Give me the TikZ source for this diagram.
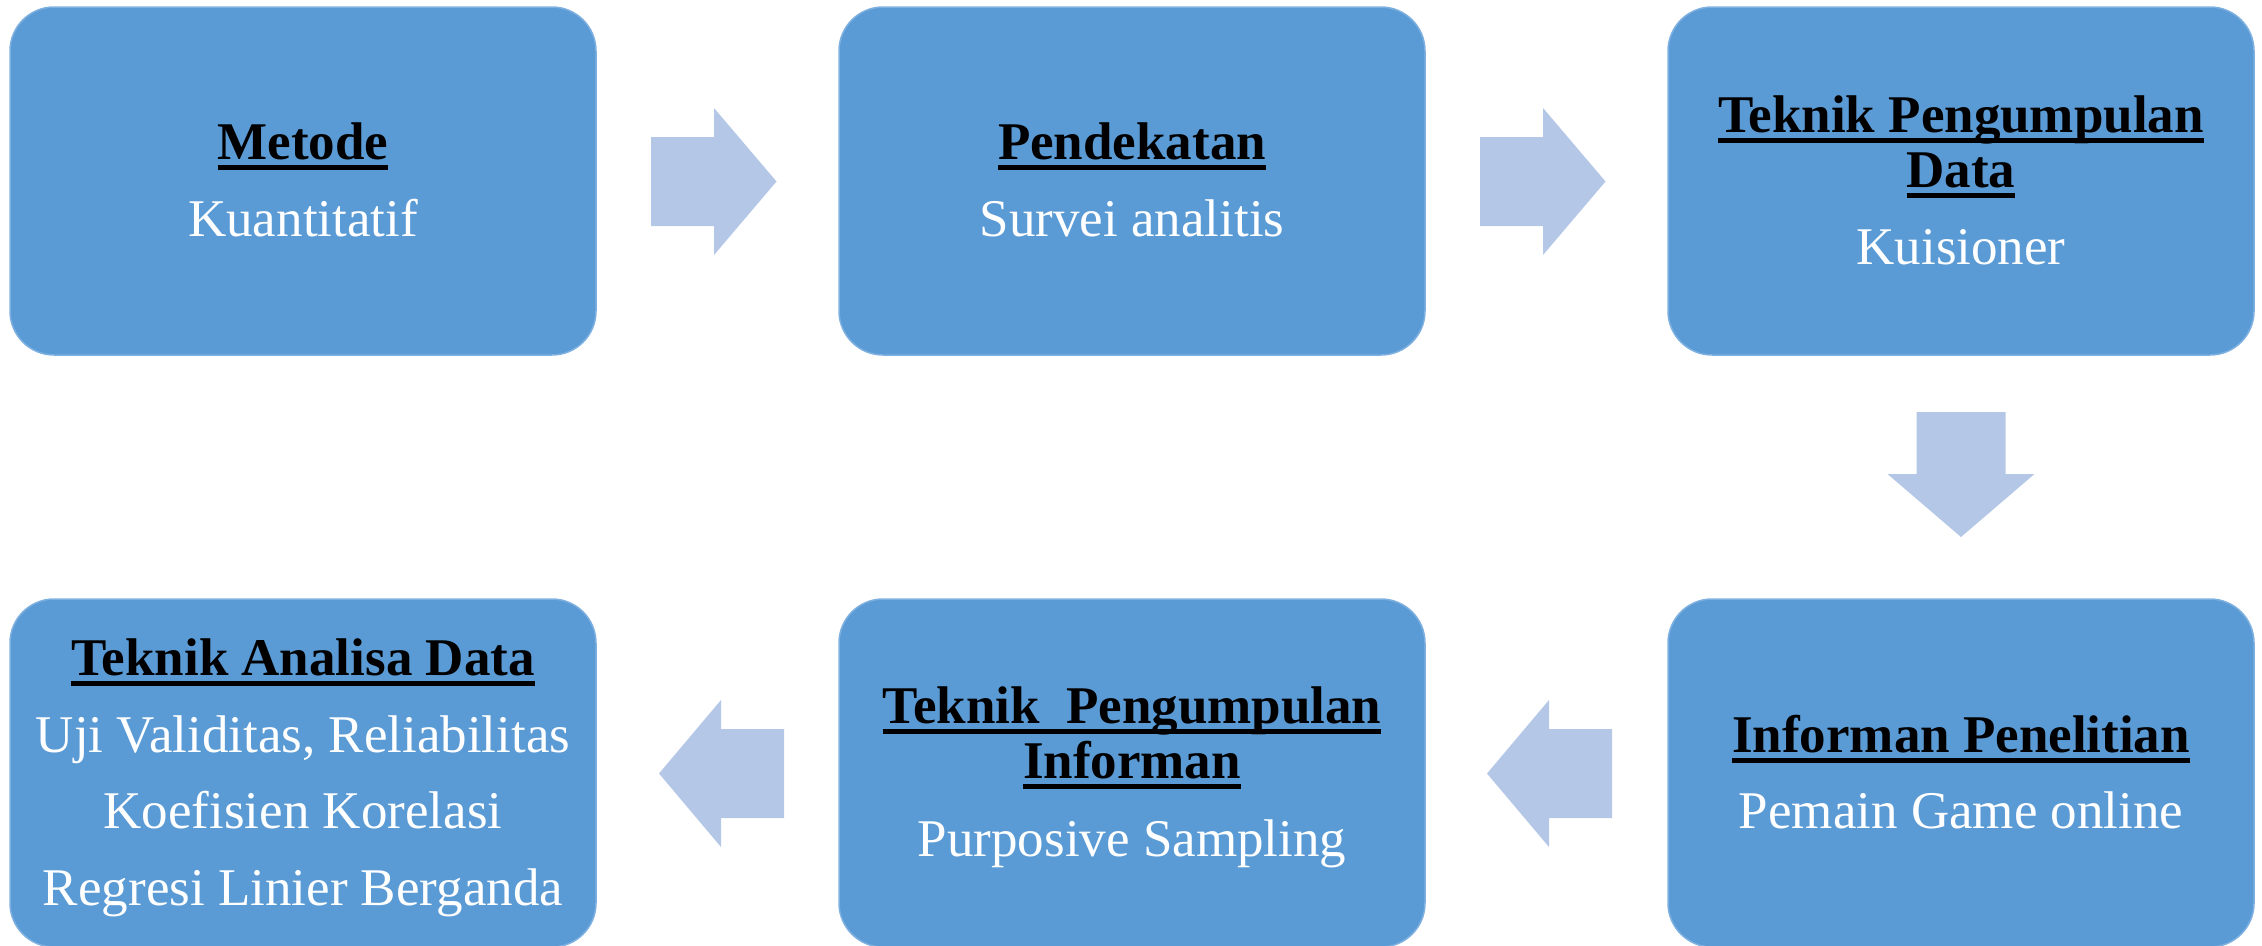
\documentclass[tikz,border=0pt]{standalone}
\usepackage{fontspec}
\setmainfont{Liberation Serif}
\definecolor{boxblue}{HTML}{5B9BD5}
\definecolor{boxedge}{HTML}{7EB0E0}
\definecolor{arrowblue}{HTML}{B4C7E7}
\newcommand{\ulx}[1]{\setbox0\hbox{#1}\rlap{\rule[-10.5pt]{\wd0}{4.5pt}}\box0}
\tikzset{
  stepbox/.style={fill=boxblue, draw=boxedge, line width=1.5pt, rounded corners=44pt,
    minimum width=586pt, minimum height=348pt, inner sep=0pt},
  headtxt/.style={anchor=base, inner sep=0pt, text=black,
    font=\fontsize{53}{60}\selectfont\bfseries},
  bodytxt/.style={anchor=base, inner sep=0pt, text=white,
    font=\fontsize{53}{60}\selectfont},
  blockarrow/.style={fill=arrowblue, draw=none}
}
\begin{document}
\begin{tikzpicture}[x=1pt,y=-1pt]
\useasboundingbox (0,0) rectangle (2262,945);
\clip (0,0) rectangle (2262,945);
% boxes
\node[stepbox] (b1) at (303,181) {};
\node[stepbox] (b2) at (1132,181) {};
\node[stepbox] (b3) at (1961,181) {};
\node[stepbox] (b4) at (303,773) {};
\node[stepbox] (b5) at (1132,773) {};
\node[stepbox] (b6) at (1961,773) {};
% arrows top row (pointing right)
\fill[blockarrow] (651,137) -- (714,137) -- (714,108) -- (776.5,181.5) -- (714,255) -- (714,226) -- (651,226) -- cycle;
\fill[blockarrow] (1480,137) -- (1543,137) -- (1543,108) -- (1605.5,181.5) -- (1543,255) -- (1543,226) -- (1480,226) -- cycle;
% arrow down
\fill[blockarrow] (1916.5,412) -- (2005.5,412) -- (2005.5,474) -- (2034.5,474) -- (1961,537) -- (1887.5,474) -- (1916.5,474) -- cycle;
% arrows bottom row (pointing left)
\fill[blockarrow] (1612,729) -- (1549,729) -- (1549,700) -- (1487,773.5) -- (1549,847) -- (1549,818) -- (1612,818) -- cycle;
\fill[blockarrow] (784,729) -- (721,729) -- (721,700) -- (659,773.5) -- (721,847) -- (721,818) -- (784,818) -- cycle;
% texts box 1
\node[headtxt] (h1) at (303,159) {\ulx{Metode}};
\node[bodytxt] (t1) at (303,236) {Kuantitatif};
% box 2
\node[headtxt] (h2) at (1132,159) {\ulx{Pendekatan}};
\node[bodytxt] (t2) at (1132,236) {Survei analitis};
% box 3
\node[headtxt] (h3a) at (1961,132) {\ulx{Teknik Pengumpulan}};
\node[headtxt] (h3b) at (1961,187) {\ulx{Data}};
\node[bodytxt] (t3) at (1961,264) {Kuisioner};
% box 6
\node[headtxt] (h6) at (1961,752) {\ulx{Informan Penelitian}};
\node[bodytxt] (t6) at (1961,828) {Pemain Game online};
% box 5
\node[headtxt] (h5a) at (1132,723) {\ulx{Teknik\ \ Pengumpulan}};
\node[headtxt] (h5b) at (1132,778) {\ulx{Informan}};
\node[bodytxt] (t5) at (1132,856) {Purposive Sampling};
% box 4
\node[headtxt] (h4) at (303,675) {\ulx{Teknik Analisa Data}};
\node[bodytxt] (t4a) at (303,752) {Uji Validitas, Reliabilitas};
\node[bodytxt] (t4b) at (303,828) {Koefisien Korelasi};
\node[bodytxt] (t4c) at (303,905) {Regresi Linier Berganda};
\end{tikzpicture}
\end{document}
